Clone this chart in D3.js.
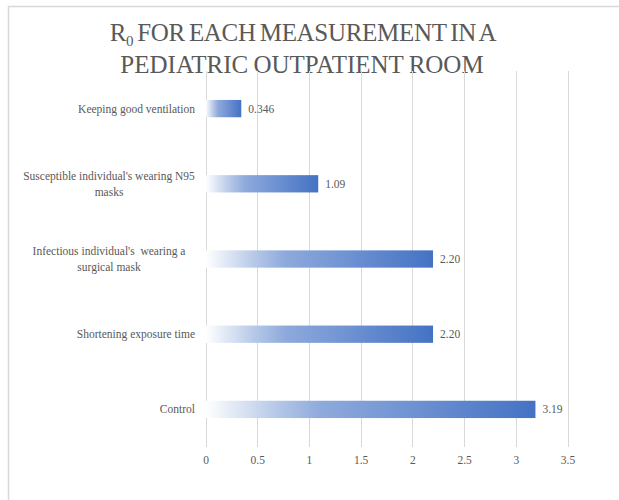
<!DOCTYPE html>
<html>
<head>
<meta charset="utf-8">
<script src="https://cdn.jsdelivr.net/npm/d3@7"></script>
<style>
  html, body { margin: 0; padding: 0; background: #fff; }
  svg { display: block; }
  text { white-space: pre; }
</style>
</head>
<body>
<svg id="chart" width="619" height="500"></svg>
<script>
// Categories, top to bottom
const categories = [
  "Keeping good ventilation",
  "Susceptible individual's wearing N95 masks",
  "Infectious individual's  wearing a surgical mask",
  "Shortening exposure time",
  "Control"
];
// Category label lines as wrapped on the axis
const categoryLines = [
  ["Keeping good ventilation"],
  ["Susceptible individual's wearing N95", "masks"],
  ["Infectious individual's  wearing a", "surgical mask"],
  ["Shortening exposure time"],
  ["Control"]
];
// R0 values
const r0Values = [0.346, 1.09, 2.20, 2.20, 3.19];
const valueLabels = ["0.346", "1.09", "2.20", "2.20", "3.19"];
const xTicks = [0, 0.5, 1, 1.5, 2, 2.5, 3, 3.5];

const svg = d3.select("#chart");
const serif = "'Liberation Serif', 'DejaVu Serif', serif";
const textColor = "#595959";

// chart frame
svg.append("path")
  .attr("d", "M8.5,500 L8.5,6.5 L619,6.5")
  .attr("fill", "none")
  .attr("stroke", "#d9d9d9")
  .attr("stroke-width", 1.5);

// title
const title = svg.append("text")
  .attr("text-anchor", "middle")
  .attr("font-family", serif)
  .attr("font-size", 25)
  .attr("fill", textColor);
const t1 = title.append("tspan").attr("x", 303).attr("y", 41)
  .attr("word-spacing", -2).attr("letter-spacing", -0.3);
t1.append("tspan").text("R");
t1.append("tspan").attr("font-size", 15).attr("dy", 5).text("0");
t1.append("tspan").attr("dy", -5).text(" FOR EACH MEASUREMENT IN A");
title.append("tspan").attr("x", 302).attr("y", 73).attr("word-spacing", -1).text("PEDIATRIC OUTPATIENT ROOM");

// scales
const x = d3.scaleLinear().domain([0, 3.5]).range([205.5, 567.5]);
const y = d3.scaleBand().domain(categories).range([71, 447]).paddingInner(0.77).paddingOuter(0.385);

// gradient fill for bars
const defs = svg.append("defs");
const grad = defs.append("linearGradient").attr("id", "barGrad")
  .attr("x1", "0%").attr("x2", "100%").attr("y1", "0%").attr("y2", "0%");
grad.append("stop").attr("offset", "0%").attr("stop-color", "#ffffff");
grad.append("stop").attr("offset", "22%").attr("stop-color", "#b4c7e7");
grad.append("stop").attr("offset", "35%").attr("stop-color", "#8eaadc");
grad.append("stop").attr("offset", "100%").attr("stop-color", "#4472c4");

// gridlines
svg.append("g").selectAll("line").data(xTicks).join("line")
  .attr("x1", d => Math.round(x(d)) + 0.5)
  .attr("x2", d => Math.round(x(d)) + 0.5)
  .attr("y1", 71).attr("y2", 447)
  .attr("stroke", "#d9d9d9").attr("stroke-width", 1);

// x axis tick labels
const xAxis = d3.axisBottom(x).tickValues(xTicks).tickSize(0).tickPadding(0)
  .tickFormat(d => String(d));
const gx = svg.append("g").attr("transform", "translate(0,456)").call(xAxis);
gx.select(".domain").remove();
gx.selectAll("text")
  .attr("font-family", serif).attr("font-size", 11.5).attr("fill", textColor)
  .attr("dy", "0.71em");

// bars
svg.append("g").selectAll("rect").data(r0Values).join("rect")
  .attr("x", x(0))
  .attr("y", (d, i) => y(categories[i]))
  .attr("width", d => x(d) - x(0))
  .attr("height", y.bandwidth())
  .attr("fill", "url(#barGrad)");

// value labels
svg.append("g").selectAll("text").data(r0Values).join("text")
  .attr("x", d => x(d) + 7)
  .attr("y", (d, i) => y(categories[i]) + y.bandwidth() / 2)
  .attr("dy", "0.35em")
  .attr("font-family", serif).attr("font-size", 11.5).attr("fill", textColor)
  .text((d, i) => valueLabels[i]);

// category labels
const lineH = 16;
const cat = svg.append("g").selectAll("text").data(categories).join("text")
  .attr("font-family", serif).attr("font-size", 11.5).attr("fill", textColor);
cat.each(function (c, i) {
  const lines = categoryLines[i];
  const cy = y(c) + y.bandwidth() / 2;
  const t = d3.select(this);
  const single = lines.length === 1;
  t.attr("text-anchor", single ? "end" : "middle");
  lines.forEach((ln, k) => {
    t.append("tspan")
      .attr("x", single ? 195 : 109)
      .attr("y", cy + (k - (lines.length - 1) / 2) * lineH + 4)
      .text(ln);
  });
});
</script>
</body>
</html>
